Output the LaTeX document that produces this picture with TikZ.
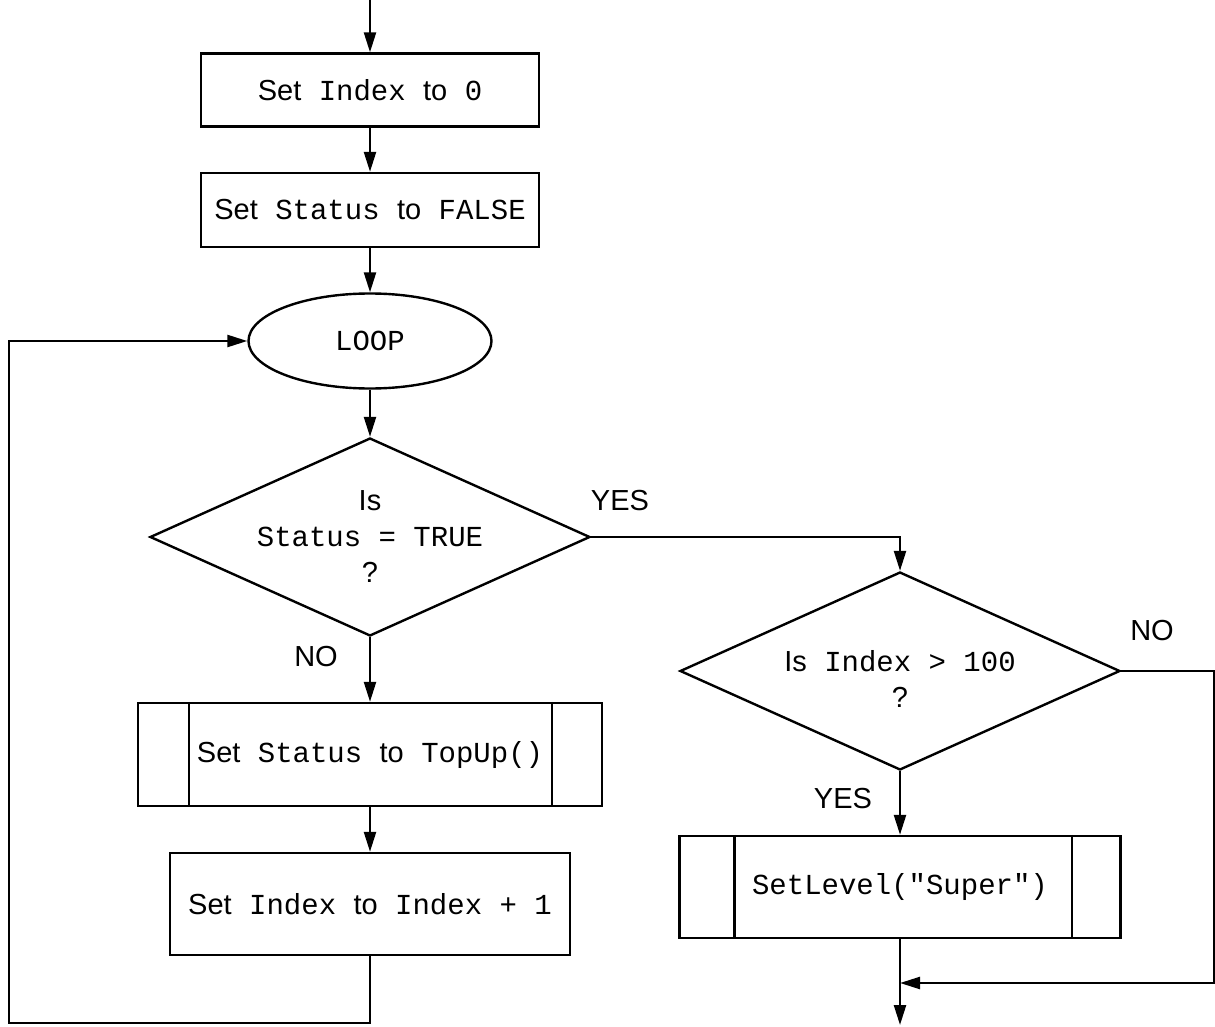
\documentclass[tikz,border=0pt]{standalone}
\usepackage{fontspec}
\setmainfont{Liberation Sans}
\setmonofont{Liberation Mono}
\usepackage{tikz}
\usetikzlibrary{arrows.meta, shapes.geometric}

\newcommand{\cd}[1]{{\ttfamily #1}}

\begin{document}
\begin{tikzpicture}[x=0.5pt, y=-0.5pt, line width=1.2pt,
    font=\fontsize{14.5}{18}\selectfont,
    flow/.style={-{Triangle[length=10pt, width=6pt]}},
    box/.style={draw, rectangle, inner sep=0pt},
    decision/.style={draw, diamond, inner sep=0pt, minimum width=220pt, minimum height=99pt}]
    \useasboundingbox (0, 0) rectangle (1215, 1027);

    % main column
    \coordinate (top) at (370, 0);
    \node[box, minimum width=169pt, minimum height=36.5pt] (b1) at (370, 90) {Set\cd{ Index }to\cd{ 0}};
    \node[box, minimum width=169pt, minimum height=37pt] (b2) at (370, 210) {Set\cd{ Status }to\cd{ FALSE}};
    \node[draw, ellipse, inner sep=0pt, minimum width=121.5pt, minimum height=47.5pt] (loop) at (370, 341) {\cd{LOOP}};
    \node[decision, label={[align=center]center:{Is\\\cd{Status = TRUE}\\?}}] (d1) at (370, 537) {};
    \node[box, minimum width=232pt, minimum height=51.5pt] (s1) at (370, 754.5) {Set\cd{ Status }to\cd{ TopUp()}};
    \node[box, minimum width=200pt, minimum height=51pt] (b3) at (370, 904) {Set\cd{ Index }to\cd{ Index + 1}};

    % right column
    \node[decision, label={[align=center, yshift=-4pt]center:{Is\cd{ Index > 100}\\?}}] (d2) at (900, 671) {};
    \node[box, minimum width=220.5pt, minimum height=51pt] (s2) at (900, 887) {\cd{SetLevel("Super")}};
    \coordinate (merge) at (900, 983);
    \coordinate (out) at (900, 1025);
    \coordinate (lb) at (9, 1023);

    % subroutine bars
    \draw ([xshift=26pt]s1.north west) -- ([xshift=26pt]s1.south west);
    \draw ([xshift=-25.5pt]s1.north east) -- ([xshift=-25.5pt]s1.south east);
    \draw ([xshift=28pt]s2.north west) -- ([xshift=28pt]s2.south west);
    \draw ([xshift=-25pt]s2.north east) -- ([xshift=-25pt]s2.south east);

    % labels
    \node (yes1) at (620, 501) {YES};
    \node (no1) at (316, 657) {NO};
    \node (no2) at (1152, 631) {NO};
    \node (yes2) at (843, 799) {YES};

    % connectors
    \draw[flow] (top) -- (b1.north);
    \draw[flow] (b1.south) -- (b2.north);
    \draw[flow] (b2.south) -- (loop.north);
    \draw[flow] (loop.south) -- (d1.north);
    \draw[flow] (d1.south) -- (s1.north);
    \draw[flow] (s1.south) -- (b3.north);
    \draw[flow] (b3.south) |- (lb) |- (loop.west);
    \draw[flow] (d1.east) -| (d2.north);
    \draw[flow] (d2.south) -- (s2.north);
    \draw[flow] (d2.east) -- ++(93, 0) |- (merge);
    \draw[flow] (s2.south) -- (out);
\end{tikzpicture}
\end{document}
